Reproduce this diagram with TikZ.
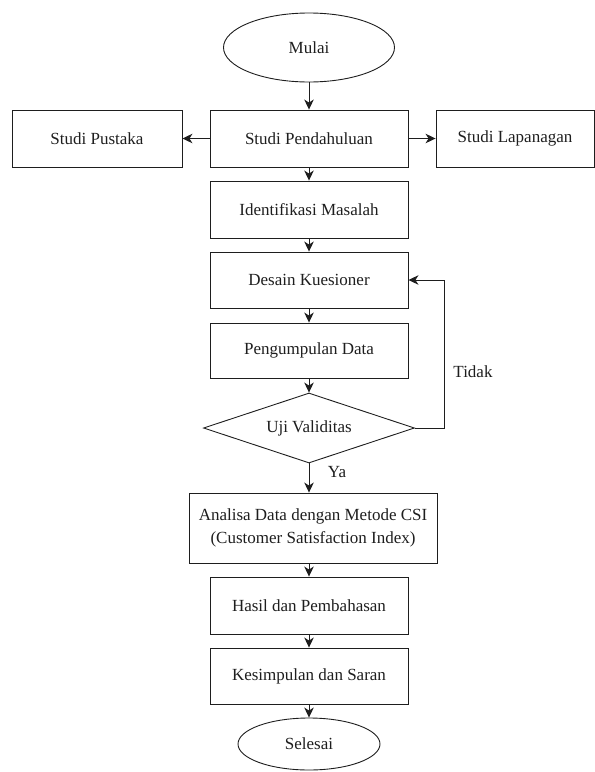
\documentclass[tikz,border=0pt]{standalone}
\usepackage{fontspec}
\setmainfont{Liberation Serif}
\usetikzlibrary{shapes.geometric,arrows.meta}
\definecolor{ink}{HTML}{1E1E1E}
\begin{document}
\begin{tikzpicture}[x=1pt,y=-1pt,
  every node/.style={text=ink, font=\fontsize{17}{22.5}\selectfont},
  box/.style={draw=ink, line width=0.9pt, minimum width=198pt, minimum height=57pt, inner sep=0pt, align=center},
  oval/.style={draw=ink, line width=0.9pt, ellipse, inner sep=0pt},
  decision/.style={draw=ink, line width=0.9pt, diamond, aspect=3, inner sep=0pt, minimum width=211pt, minimum height=70pt},
  arr/.style={draw=ink, line width=0.9pt, -{Stealth[length=10pt,width=9.5pt,inset=3pt]}},
  lbl/.style={inner sep=1pt}]
\useasboundingbox (0,0) rectangle (595,772);
\node[oval, minimum width=171pt, minimum height=69pt] (mulai) at (309,47.5) {Mulai};
\node[box] (pend) at (309,138.5) {Studi Pendahuluan};
\node[box, minimum width=170pt] (pust) at (97,138.5) {Studi Pustaka};
\node[box, minimum width=158pt] (lap) at (515,138.5) {Studi Lapanagan};
\node[box] (ident) at (309,209.5) {Identifikasi Masalah};
\node[box, minimum height=56pt] (desain) at (309,280) {Desain Kuesioner};
\node[box, minimum height=55pt] (pengum) at (309,350.5) {Pengumpulan Data};
\node[decision] (uji) at (309,428) {Uji Validitas};
\node[box, minimum width=248pt, minimum height=70pt] (analisa) at (313,528) {Analisa Data dengan Metode CSI\\(Customer Satisfaction Index)};
\node[box] (hasil) at (309,605.5) {Hasil dan Pembahasan};
\node[box, minimum height=56pt] (kesim) at (309,676) {Kesimpulan dan Saran};
\node[oval, minimum width=142pt, minimum height=52pt] (selesai) at (309,744) {Selesai};
\node[lbl] (tidak) at (473,372) {Tidak};
\node[lbl] (ya) at (337,472) {Ya};
\draw[arr] (mulai) -- (pend);
\draw[arr] (pend) -- (pust);
\draw[arr] (pend) -- (lap);
\draw[arr] (pend) -- (ident);
\draw[arr] (ident) -- (desain);
\draw[arr] (desain) -- (pengum);
\draw[arr] (pengum) -- (uji);
\draw[arr] (uji.south) -- (uji.south |- analisa.north);
\draw[arr] (uji.east) -- ++(29,0) |- (desain.east);
\draw[arr] (hasil.north |- analisa.south) -- (hasil.north);
\draw[arr] (hasil) -- (kesim);
\draw[arr] (kesim) -- (selesai);
\end{tikzpicture}
\end{document}
